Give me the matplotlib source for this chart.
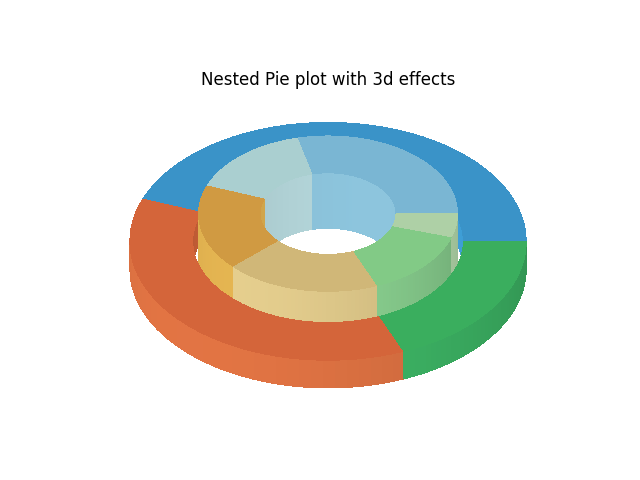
import numpy as np
import matplotlib
matplotlib.use("Agg")
import matplotlib.pyplot as plt
from matplotlib.colors import to_rgb

# values per group, inner ring splits each group in two
outer_vals = [92, 77, 39]
inner_vals = [60, 32, 37, 40, 29, 10]

outer_colors = ["#3a93c8", "#d4653a", "#3aae5e"]
outer_side_colors = ["#3e9bd2", "#da7041", "#3db565"]
inner_top_colors = ["#7ab6d3", "#aacfd0", "#d09a42", "#d0b778", "#82ca86", "#aed0a6"]
inner_side_colors = ["#8cc4dc", "#b4d6da", "#dcae4e", "#dcc688", "#8ad190", "#bce4b4"]

r_outer = (0.683, 1.0)
r_inner = (0.343, 0.653)
h = 0.233


def angles(vals):
    edges = np.cumsum([0] + vals) / sum(vals) * 2 * np.pi
    return list(zip(edges[:-1], edges[1:]))


def top(ax, t0, t1, r0, r1, z, color, zorder):
    t, r = np.meshgrid(np.linspace(t0, t1, 40), [r0, r1])
    ax.plot_surface(r * np.cos(t), r * np.sin(t), np.full_like(r, z), color=color,
                    shade=False, linewidth=0, antialiased=False, zorder=zorder,
                    clip_on=False)


def wall(ax, t0, t1, r, z0, z1, color, zorder, sign=1):
    t, z = np.meshgrid(np.linspace(t0, t1, 40), [z0, z1])
    # light from the front left, like the default LightSource
    dot = -sign * (np.cos(t) + np.sin(t)) * 0.707
    mid = 0.7 if sign > 0 else 0.25
    fc = np.clip(np.array(to_rgb(color)) * (1 + 0.13 * (dot - mid))[..., None], 0, 1)
    ax.plot_surface(r * np.cos(t), r * np.sin(t), z, facecolors=fc, shade=False,
                    rcount=2, ccount=40, linewidth=0, antialiased=False, zorder=zorder,
                    clip_on=False)


fig = plt.figure(figsize=(6.4, 4.8))
ax = fig.add_subplot(projection="3d", computed_zorder=False)
ax.set_title("Nested Pie plot with 3d effects", y=0.983)

for (t0, t1), c, s in zip(angles(outer_vals), outer_colors, outer_side_colors):
    wall(ax, t0, t1, r_outer[0], 0, h, c, 1, sign=-1)
    wall(ax, t0, t1, r_outer[1], 0, h, s, 2)
    top(ax, t0, t1, r_outer[0], r_outer[1], h, c, 4)

for (t0, t1), c, s in zip(angles(inner_vals), inner_top_colors, inner_side_colors):
    wall(ax, t0, t1, r_inner[1], 0, 2 * h, s, 3)
    # only the far half of the hole wall can be seen
    if t0 < np.pi:
        wall(ax, t0, min(t1, np.pi), r_inner[0], 0, 2 * h, s, 5, sign=-0.3)
    top(ax, t0, t1, r_inner[0], r_inner[1], 2 * h, c, 6)

ax.set_proj_type("ortho")
ax.view_init(elev=36.87, azim=-90)
ax.set_xlim(-0.575, 0.625)
ax.set_ylim(-0.6, 0.6)
ax.set_zlim(-0.392 + h - 0.175, 0.808 + h - 0.175)
ax.axis("off")
fig.savefig("out.png", dpi=100)
